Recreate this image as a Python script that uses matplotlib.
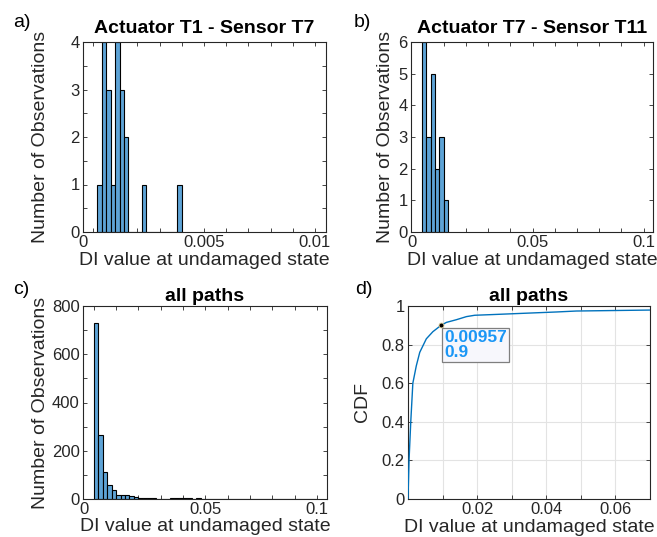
import matplotlib
matplotlib.use('Agg')
import matplotlib.pyplot as plt
import numpy as np
from matplotlib.transforms import ScaledTranslation

plt.rcParams['font.family'] = ['Liberation Sans', 'DejaVu Sans']

# ---------------- data ----------------
a_start = 0.0002
a_width = 0.0002
a_counts = [1, 4, 3, 1, 4, 3, 2, 0, 0, 0, 1, 0, 0, 0, 0, 0, 0, 0, 1]

b_start = 0.0
b_width = 0.002
b_counts = [6, 3, 5, 2, 3, 1]

c_start = 0.0
c_width = 0.002
c_counts = [730, 266, 110, 57, 37, 17, 17, 15, 13, 8,
            5, 4, 3, 3, 2, 2, 2, 3, 3, 4,
            4, 3, 2, 3, 2, 2, 1, 1, 1, 1,
            1, 1, 0, 1, 0, 1, 0, 0, 1, 0,
            1, 0, 0, 1, 0, 0, 0, 0, 0, 1]

cdf_x = [0.0, 0.0003, 0.0008, 0.0014, 0.0024, 0.0034, 0.0053, 0.0072, 0.00957,
         0.0111, 0.014, 0.0169, 0.0193, 0.0236, 0.0332, 0.0429, 0.0487, 0.0573, 0.07]
cdf_y = [0.0, 0.2, 0.4, 0.6, 0.69, 0.76, 0.83, 0.867, 0.9,
         0.915, 0.929, 0.945, 0.952, 0.955, 0.962, 0.969, 0.974, 0.976, 0.979]
tip_x, tip_y = 0.00957, 0.9

titles = ['Actuator T1 - Sensor T7', 'Actuator T7 - Sensor T11', 'all paths', 'all paths']
panel_labels = ['a)', 'b)', 'c)', 'd)']
xlab = 'DI value at undamaged state'
ylab_hist = 'Number of Observations'
ylab_cdf = 'CDF'

# ---------------- figure ----------------
W, H = 657, 537
fig = plt.figure(figsize=(W / 100, H / 100), dpi=100)

def pos(l, r, t, b):
    return [l / W, 1 - b / H, (r - l) / W, (b - t) / H]

ax_a = fig.add_axes(pos(83, 326, 42, 232))
ax_b = fig.add_axes(pos(411, 653, 42, 232))
ax_c = fig.add_axes(pos(83, 327, 306, 499))
ax_d = fig.add_axes(pos(408, 650, 306, 499))

DARK = '#262626'
FACE = '#5EA3D6'

def style(ax):
    for s in ax.spines.values():
        s.set_color(DARK)
        s.set_linewidth(0.8)
    ax.tick_params(which='both', direction='in', top=True, right=True,
                   length=3, width=0.6, colors=DARK, labelsize=12, pad=2.5)
    ax.tick_params(which='minor', length=0)

def hist(ax, start, width, counts):
    edges = start + width * np.arange(len(counts))
    ax.bar(edges, counts, width=width, align='edge', color=FACE,
           edgecolor='black', linewidth=0.8, zorder=2)

def shift_zero_label(ax):
    lab = ax.get_xticklabels()[0]
    lab.set_transform(lab.get_transform() + ScaledTranslation(-10 / 100, 0, fig.dpi_scale_trans))

# panel a
hist(ax_a, a_start, a_width, a_counts)
ax_a.set_xlim(-0.00045, 0.0105)
ax_a.set_ylim(0, 4)
xt = np.round(np.arange(0, 0.0101, 0.001), 4)
ax_a.set_xticks(xt)
ax_a.set_xticklabels(['0' if abs(v) < 1e-12 else ('0.005' if abs(v - 0.005) < 1e-9 else ('0.01' if abs(v - 0.01) < 1e-9 else '')) for v in xt])
yt = np.arange(0, 4.01, 0.5)
ax_a.set_yticks(yt)
ax_a.set_yticklabels([str(int(v)) if v == int(v) else '' for v in yt])

# panel b
hist(ax_b, b_start, b_width, b_counts)
ax_b.set_xlim(-0.0048, 0.1042)
ax_b.set_ylim(0, 6)
xt2 = np.round(np.arange(0, 0.101, 0.01), 3)
lab2 = ['0' if abs(v) < 1e-12 else ('0.05' if abs(v - 0.05) < 1e-9 else ('0.1' if abs(v - 0.1) < 1e-9 else '')) for v in xt2]
ax_b.set_xticks(xt2)
ax_b.set_xticklabels(lab2)
ax_b.set_yticks(range(0, 7))

# panel c
hist(ax_c, c_start, c_width, c_counts)
ax_c.set_xlim(-0.0048, 0.1045)
ax_c.set_ylim(0, 800)
ax_c.set_xticks(xt2)
ax_c.set_xticklabels(lab2)
yt3 = np.arange(0, 801, 100)
ax_c.set_yticks(yt3)
ax_c.set_yticklabels([str(v) if v % 200 == 0 else '' for v in yt3])

# panel d
ax_d.plot(cdf_x, cdf_y, color='#0072BD', lw=1.0, zorder=3)
ax_d.set_xlim(0, 0.07)
ax_d.set_ylim(0, 1)
xt4 = np.round(np.arange(0, 0.0701, 0.01), 3)
ax_d.set_xticks(xt4)
ax_d.set_xticklabels(['', '', '0.02', '', '0.04', '', '0.06', ''])
ax_d.set_yticks(np.arange(0, 1.01, 0.2))
ax_d.set_yticklabels(['0', '0.2', '0.4', '0.6', '0.8', '1'])
ax_d.grid(True, color='#E3E3E3', lw=0.8, zorder=0)
ax_d.set_axisbelow(True)
ax_d.plot([tip_x], [tip_y], 'o', ms=3.5, mfc='black', mec='#D8C890', mew=0.6, zorder=5)
ax_d.annotate(f'{tip_x:g}\n{tip_y:g}', xy=(tip_x, tip_y), xytext=(2.2, -3.6),
              textcoords='offset points', ha='left', va='top',
              fontsize=12.5, fontweight='bold', color='#1A96F5', linespacing=0.95,
              bbox=dict(boxstyle='square,pad=0.15', fc='#F7F7FC', ec='#7F7F7F', lw=0.9),
              zorder=6)

for ax in (ax_a, ax_b, ax_c, ax_d):
    style(ax)
    ax.set_xlabel(xlab, fontsize=14, color=DARK)

for ax in (ax_a, ax_b, ax_c):
    shift_zero_label(ax)

ax_a.set_ylabel(ylab_hist, fontsize=14, color=DARK)
ax_b.set_ylabel(ylab_hist, fontsize=14, color=DARK)
ax_c.set_ylabel(ylab_hist, fontsize=14, color=DARK)
ax_d.set_ylabel(ylab_cdf, fontsize=14, color=DARK)

ax_a.yaxis.set_label_coords(-0.14, 0.5)
ax_c.yaxis.set_label_coords(-0.14, 0.5)
ax_b.yaxis.set_label_coords(-0.07, 0.5)
ax_d.yaxis.set_label_coords(-0.154, 0.5)

ax_a.xaxis.set_label_coords(0.5, -0.105)
ax_b.xaxis.set_label_coords(0.5, -0.105)
ax_c.xaxis.set_label_coords(0.5, -0.098)
ax_d.xaxis.set_label_coords(0.5, -0.106)

ax_a.set_title(titles[0], fontsize=14, fontweight='bold', pad=6.5)
ax_b.set_title(titles[1], fontsize=14, fontweight='bold', pad=6.5)
ax_c.set_title(titles[2], fontsize=14, fontweight='bold', pad=3.8)
ax_d.set_title(titles[3], fontsize=14, fontweight='bold', pad=3.8)

for lab, (x, y) in zip(panel_labels, [(13, 27), (354, 27), (13, 294), (355, 294)]):
    fig.text(x / W, 1 - y / H, lab, fontsize=14, color='black', ha='left', va='baseline')

fig.savefig('out.png', dpi=100)
